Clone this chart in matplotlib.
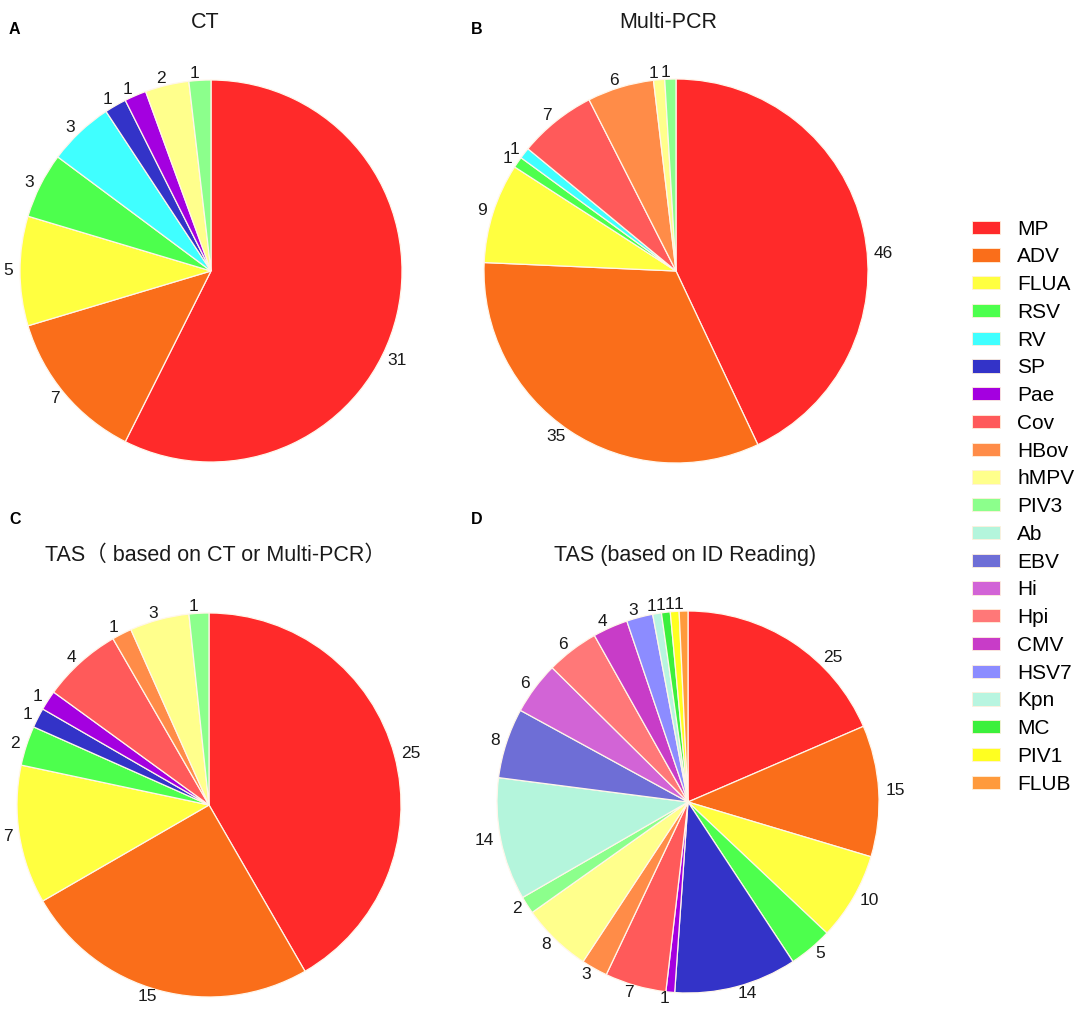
"""four pie charts of pathogen detection"""
import numpy as np
import matplotlib
matplotlib.use("Agg")
import matplotlib.pyplot as plt
from matplotlib.patches import Patch

plt.rcParams['font.family'] = ['Liberation Sans', 'Noto Sans CJK SC', 'DejaVu Sans']

PATHOGENS = ["MP", "ADV", "FLUA", "RSV", "RV", "SP", "Pae", "Cov", "HBov",
             "hMPV", "PIV3", "Ab", "EBV", "Hi", "Hpi", "CMV", "HSV7", "Kpn",
             "MC", "PIV1", "FLUB"]
COLORS = {
    "MP": "#ff2a2a", "ADV": "#fa6e1a", "FLUA": "#ffff40", "RSV": "#4dff4d",
    "RV": "#40ffff", "SP": "#3333c8", "Pae": "#a400e0", "Cov": "#ff5a5a",
    "HBov": "#ff8c48", "hMPV": "#ffff8c", "PIV3": "#8cff8c", "Ab": "#b4f5dc",
    "EBV": "#6e6ed6", "Hi": "#d264d6", "Hpi": "#ff7878", "CMV": "#c83cc8",
    "HSV7": "#8c8cff", "Kpn": "#b8f5e0", "MC": "#3cf03c", "PIV1": "#ffff20",
    "FLUB": "#ff9a3c"}

# panel A: CT
CT_NAMES = ["MP", "ADV", "FLUA", "RSV", "RV", "SP", "Pae", "hMPV", "PIV3"]
CT_VALUES = [31, 7, 5, 3, 3, 1, 1, 2, 1]

# panel B: Multi-PCR
PCR_NAMES = ["MP", "ADV", "FLUA", "RSV", "RV", "Cov", "HBov", "hMPV", "PIV3"]
PCR_VALUES = [46, 35, 9, 1, 1, 7, 6, 1, 1]

# panel C: TAS based on CT or Multi-PCR
TAS_NAMES = ["MP", "ADV", "FLUA", "RSV", "SP", "Pae", "Cov", "HBov", "hMPV",
             "PIV3"]
TAS_VALUES = [25, 15, 7, 2, 1, 1, 4, 1, 3, 1]

# panel D: TAS based on ID reading
ID_NAMES = ["MP", "ADV", "FLUA", "RSV", "SP", "Pae", "Cov", "HBov", "hMPV",
            "PIV3", "Ab", "EBV", "Hi", "Hpi", "CMV", "HSV7", "Kpn", "MC",
            "PIV1", "FLUB"]
ID_VALUES = [25, 15, 10, 5, 14, 1, 7, 3, 8, 2, 14, 8, 6, 6, 4, 3, 1, 1, 1, 1]

W, H = 1084, 1027
LABEL_DIST = 1.035


def add_pie(fig, cx, cy, r, names, values, first_label_angle=None):
    """draw one pie centred at pixel (cx, cy) with radius r"""
    ax = fig.add_axes([(cx - r) / W, 1 - (cy + r) / H, 2 * r / W, 2 * r / H])
    _, texts = ax.pie(values, labels=[str(v) for v in values],
                      colors=[COLORS[n] for n in names],
                      startangle=90, counterclock=False,
                      labeldistance=LABEL_DIST,
                      wedgeprops={'edgecolor': '#fff6ea', 'linewidth': 0.9},
                      textprops={'fontsize': 12.5, 'color': '#1a1a1a'})
    # the original places the label of the big first slice off its middle
    if first_label_angle is not None:
        ang = np.deg2rad(first_label_angle)
        texts[0].set_position((LABEL_DIST * np.cos(ang),
                               LABEL_DIST * np.sin(ang)))
    ax.set_xlim(-1, 1)
    ax.set_ylim(-1, 1)
    ax.set_aspect('equal')
    return ax


def plot():
    """building the figure"""
    fig = plt.figure(figsize=(W / 100, H / 100), dpi=100)

    add_pie(fig, 211, 271, 191, CT_NAMES, CT_VALUES, -27)
    add_pie(fig, 676, 271, 192, PCR_NAMES, PCR_VALUES, 5)
    add_pie(fig, 209, 805, 192, TAS_NAMES, TAS_VALUES)
    add_pie(fig, 688, 802, 191, ID_NAMES, ID_VALUES, 47)

    titles = [(205, 22, "CT"), (668, 22, "Multi-PCR"),
              (215, 555, "TAS（ based on CT or Multi-PCR）"),
              (685, 555, "TAS (based on ID Reading)")]
    for x, y, t in titles:
        fig.text(x / W, 1 - y / H, t, ha='center', va='center',
                 fontsize=15.5, color='#1a1a1a')

    letters = [(9, 29, "A"), (471, 29, "B"), (9, 520, "C"), (471, 520, "D")]
    for x, y, t in letters:
        fig.text(x / W, 1 - y / H, t, ha='left', va='center',
                 fontsize=11.5, fontweight='bold')

    handles = [Patch(facecolor=COLORS[n], edgecolor='#fff0dc', linewidth=0.6)
               for n in PATHOGENS]
    fig.legend(handles, PATHOGENS, loc='upper left',
               bbox_to_anchor=(957 / W, 1 - 205 / H), frameon=False,
               fontsize=15, handlelength=1.35, handleheight=0.6,
               labelspacing=0.42, handletextpad=0.85, borderpad=0.2)

    fig.savefig('out.png', dpi=100)


plot()
